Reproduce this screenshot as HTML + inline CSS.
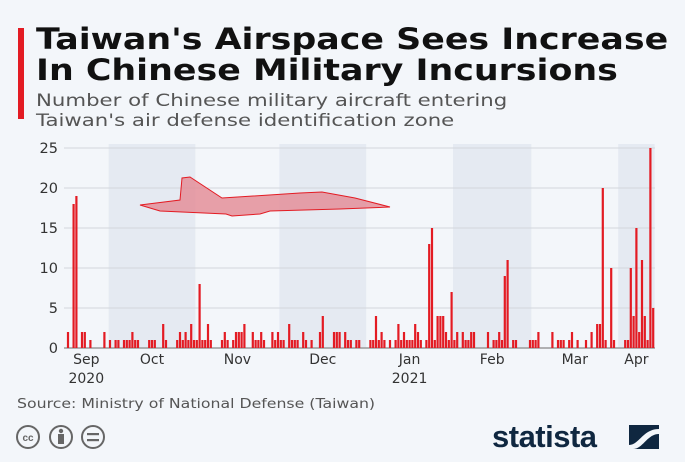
<!DOCTYPE html>
<html><head><meta charset="utf-8">
<style>
html,body{margin:0;padding:0}
body{width:685px;height:462px;background:#f3f6fa;position:relative;overflow:hidden;font-family:"DejaVu Sans","Liberation Sans",sans-serif}
.abs{position:absolute}
</style></head>
<body>
<div class="abs" style="left:18px;top:28px;width:6px;height:91px;background:#e31b23"></div>
<div class="abs" style="left:36px;top:24px;font-size:29.5px;font-weight:bold;color:#111;line-height:31px;white-space:nowrap;transform:scaleX(1.18);transform-origin:0 0">Taiwan's Airspace Sees Increase<br>In Chinese Military Incursions</div>
<div class="abs" style="left:36px;top:91px;font-size:17px;color:#555;line-height:20px;white-space:nowrap;transform:scaleX(1.25);transform-origin:0 0">Number of Chinese military aircraft entering<br>Taiwan's air defense identification zone</div>
<svg class="abs" style="left:0;top:0" width="685" height="462" id="chart"></svg>
<div class="abs" style="left:17px;top:397px;font-size:13px;color:#555;white-space:nowrap;transform:scaleX(1.21);transform-origin:0 0">Source: Ministry of National Defense (Taiwan)</div>
<svg class="abs" style="left:16px;top:424px" width="92" height="28">
<g fill="none" stroke="#666" stroke-width="2"><circle cx="12" cy="13" r="11"/><circle cx="45" cy="13" r="11"/><circle cx="77" cy="13" r="11"/></g>
<text x="12" y="17" font-size="10" font-weight="bold" text-anchor="middle" fill="#666" font-family="Liberation Sans">cc</text>
<circle cx="45" cy="7" r="2.2" fill="#666"/><rect x="42" y="10" width="6" height="10" fill="#666"/>
<rect x="71" y="9" width="12" height="2.2" fill="#666"/><rect x="71" y="15" width="12" height="2.2" fill="#666"/>
</svg>
<div class="abs" style="left:492px;top:419px;font-size:31px;font-weight:bold;color:#0f2740;letter-spacing:-0.5px;font-family:'Liberation Sans',sans-serif">statista</div>
<svg class="abs" style="left:629px;top:425px" width="30" height="24"><rect width="30" height="24" fill="#0f2740"/><path d="M0 20 C10 20 14 4 30 4 L30 9 C18 9 14 24 4 24 L0 24Z" fill="#f3f6fa"/></svg>
<script>
const values=[2,0,18,19,0,2,2,0,1,0,0,0,0,2,0,1,0,1,1,0,1,1,1,2,1,1,0,0,0,1,1,1,0,0,3,1,0,0,0,1,2,1,2,1,3,1,1,8,1,1,3,1,0,0,0,1,2,1,0,1,2,2,2,3,0,0,2,1,1,2,1,0,0,2,1,2,1,1,0,3,1,1,1,0,2,1,0,1,0,0,2,4,0,0,0,2,2,2,0,2,1,1,0,1,1,0,0,0,1,1,4,1,2,1,0,1,0,1,3,1,2,1,1,1,3,2,1,0,1,13,15,1,4,4,4,2,1,7,1,2,0,2,1,1,2,2,0,0,0,0,2,0,1,1,2,1,9,11,0,1,1,0,0,0,0,1,1,1,2,0,0,0,0,2,0,1,1,1,0,1,2,0,1,0,0,1,0,2,0,3,3,20,1,0,10,1,0,0,0,1,1,10,4,15,2,11,4,1,25,5];
const yTicks=[0,5,10,15,20,25];
const months=["Sep","Oct","Nov","Dec","Jan","Feb","Mar","Apr"];
const monthStartIdx=[-15,15,46,76,107,138,166,197];
const monthEndIdx=[15,46,76,107,138,166,197,210];
const years=[{label:"2020",m:0},{label:"2021",m:4}];
const NS="http://www.w3.org/2000/svg";
const svg=document.getElementById('chart');
const x0=68,dx=2.8,yBase=348,yTop=148,maxV=25,plotL=64,plotR=655;
const FF="DejaVu Sans, Liberation Sans, sans-serif";
const xs=i=>x0+i*dx;
const ys=v=>yBase-(v/maxV)*(yBase-yTop);
function mk(t,a){const e=document.createElementNS(NS,t);for(const k in a)e.setAttribute(k,a[k]);svg.appendChild(e);return e;}
months.forEach((m,k)=>{if(k%2===1){const a=Math.max(plotL,xs(monthStartIdx[k])-1.4),b=Math.min(plotR,xs(monthEndIdx[k])-1.4);
const r=mk('rect',{x:a,y:yTop-4,width:b-a,height:yBase-yTop+4,fill:'#e5eaf2'});

}});
yTicks.forEach(v=>{const l=mk('line',{x1:plotL,x2:plotR,y1:ys(v),y2:ys(v),stroke:v===0?'#999':'#d3d7dc','stroke-width':v===0?1.5:1});


const t=mk('text',{x:58,y:ys(v)+5,'text-anchor':'end','font-size':14.5,fill:'#333','font-family':FF});t.textContent=v;

});
const p=mk('path',{d:'M140 205 L180 200 L182 178 L190 177 L222 198 L300 193 L322 192 L355 198 L390 207 L340 209 L270 211 L260 214 L232 216 L226 214 L160 211 Z',fill:'#e38a93','fill-opacity':0.8,stroke:'#e31b23','stroke-width':1});


values.forEach((v,i)=>{if(v<=0)return;const r=mk('rect',{x:xs(i)-1.1,y:ys(v),width:2.2,height:yBase-ys(v),fill:'#e31b23'});

});
months.forEach((m,k)=>{const a=Math.max(plotL,xs(monthStartIdx[k])-1.4),b=Math.min(plotR,xs(monthEndIdx[k])-1.4);
const t=mk('text',{x:(a+b)/2,y:364,'text-anchor':'middle','font-size':14,fill:'#333','font-family':FF});t.textContent=m;

});
years.forEach(yv=>{const k=yv.m;const a=Math.max(plotL,xs(monthStartIdx[k])-1.4),b=xs(monthEndIdx[k])-1.4;
const t=mk('text',{x:(a+b)/2,y:383,'text-anchor':'middle','font-size':14,fill:'#333','font-family':FF});t.textContent=yv.label;

});
</script>
</body></html>
